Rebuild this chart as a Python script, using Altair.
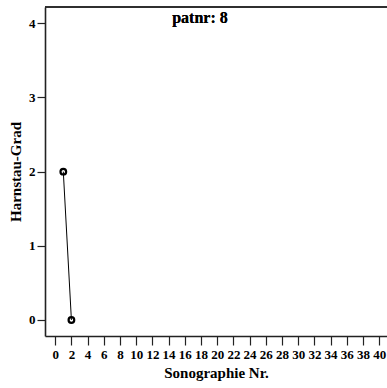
import altair as alt
import pandas as pd

# Sonography series for patient 8
sono_nr = [1, 2]
harnstau_grad = [2, 0]
patient_label = "patnr: 8"

x_ticks = list(range(0, 41, 2))
y_ticks = [0, 1, 2, 3, 4]

df = pd.DataFrame({"sono": sono_nr, "grad": harnstau_grad})

FONT = "Liberation Serif"
W, H = 342, 329

x_enc = alt.X(
    "sono:Q",
    scale=alt.Scale(domain=[-1.26, 40.96], nice=False, zero=False),
    axis=alt.Axis(values=x_ticks, title="Sonographie Nr.", grid=False,
                  tickSize=9, labelPadding=3, titlePadding=4,
                  labelFlush=False, labelOverlap=False),
)
y_enc = alt.Y(
    "grad:Q",
    scale=alt.Scale(domain=[-0.216, 4.22], nice=False, zero=False),
    axis=alt.Axis(values=y_ticks, title="Harnstau-Grad", grid=False,
                  tickSize=8, labelPadding=2, titlePadding=5, format="d"),
)

base = alt.Chart(df)

line = base.mark_line(color="black", strokeWidth=1).encode(x=x_enc, y=y_enc)
points = base.mark_point(shape="circle", filled=False, size=32,
                         strokeWidth=2.2, color="black", opacity=1).encode(x=x_enc, y=y_enc)

# top frame line
top_rule = alt.Chart(df).mark_rule(color="#222222", strokeWidth=1.6).encode(
    x=alt.value(0), x2=alt.value(W), y=alt.value(0)
)

label = alt.Chart(df).mark_text(
    text=patient_label, font=FONT, fontWeight="bold", fontSize=16,
    align="center", baseline="middle", color="black"
).encode(x=alt.value(155), y=alt.value(11))

chart = alt.layer(top_rule, line, points, label).properties(
    width=W, height=H,
    autosize=alt.AutoSizeParams(type="none"),
    padding={"left": 45, "top": 7, "right": 0, "bottom": 52},
).configure_view(stroke=None).configure_axis(
    domainColor="#222222", domainWidth=1.6,
    tickColor="#222222", tickWidth=1.2,
    labelFont=FONT, labelFontWeight="bold", labelFontSize=13, labelColor="black",
    titleFont=FONT, titleFontWeight="bold", titleFontSize=15, titleColor="black",
)

chart.save("out.html", embed_options={"renderer": "svg", "actions": False})
